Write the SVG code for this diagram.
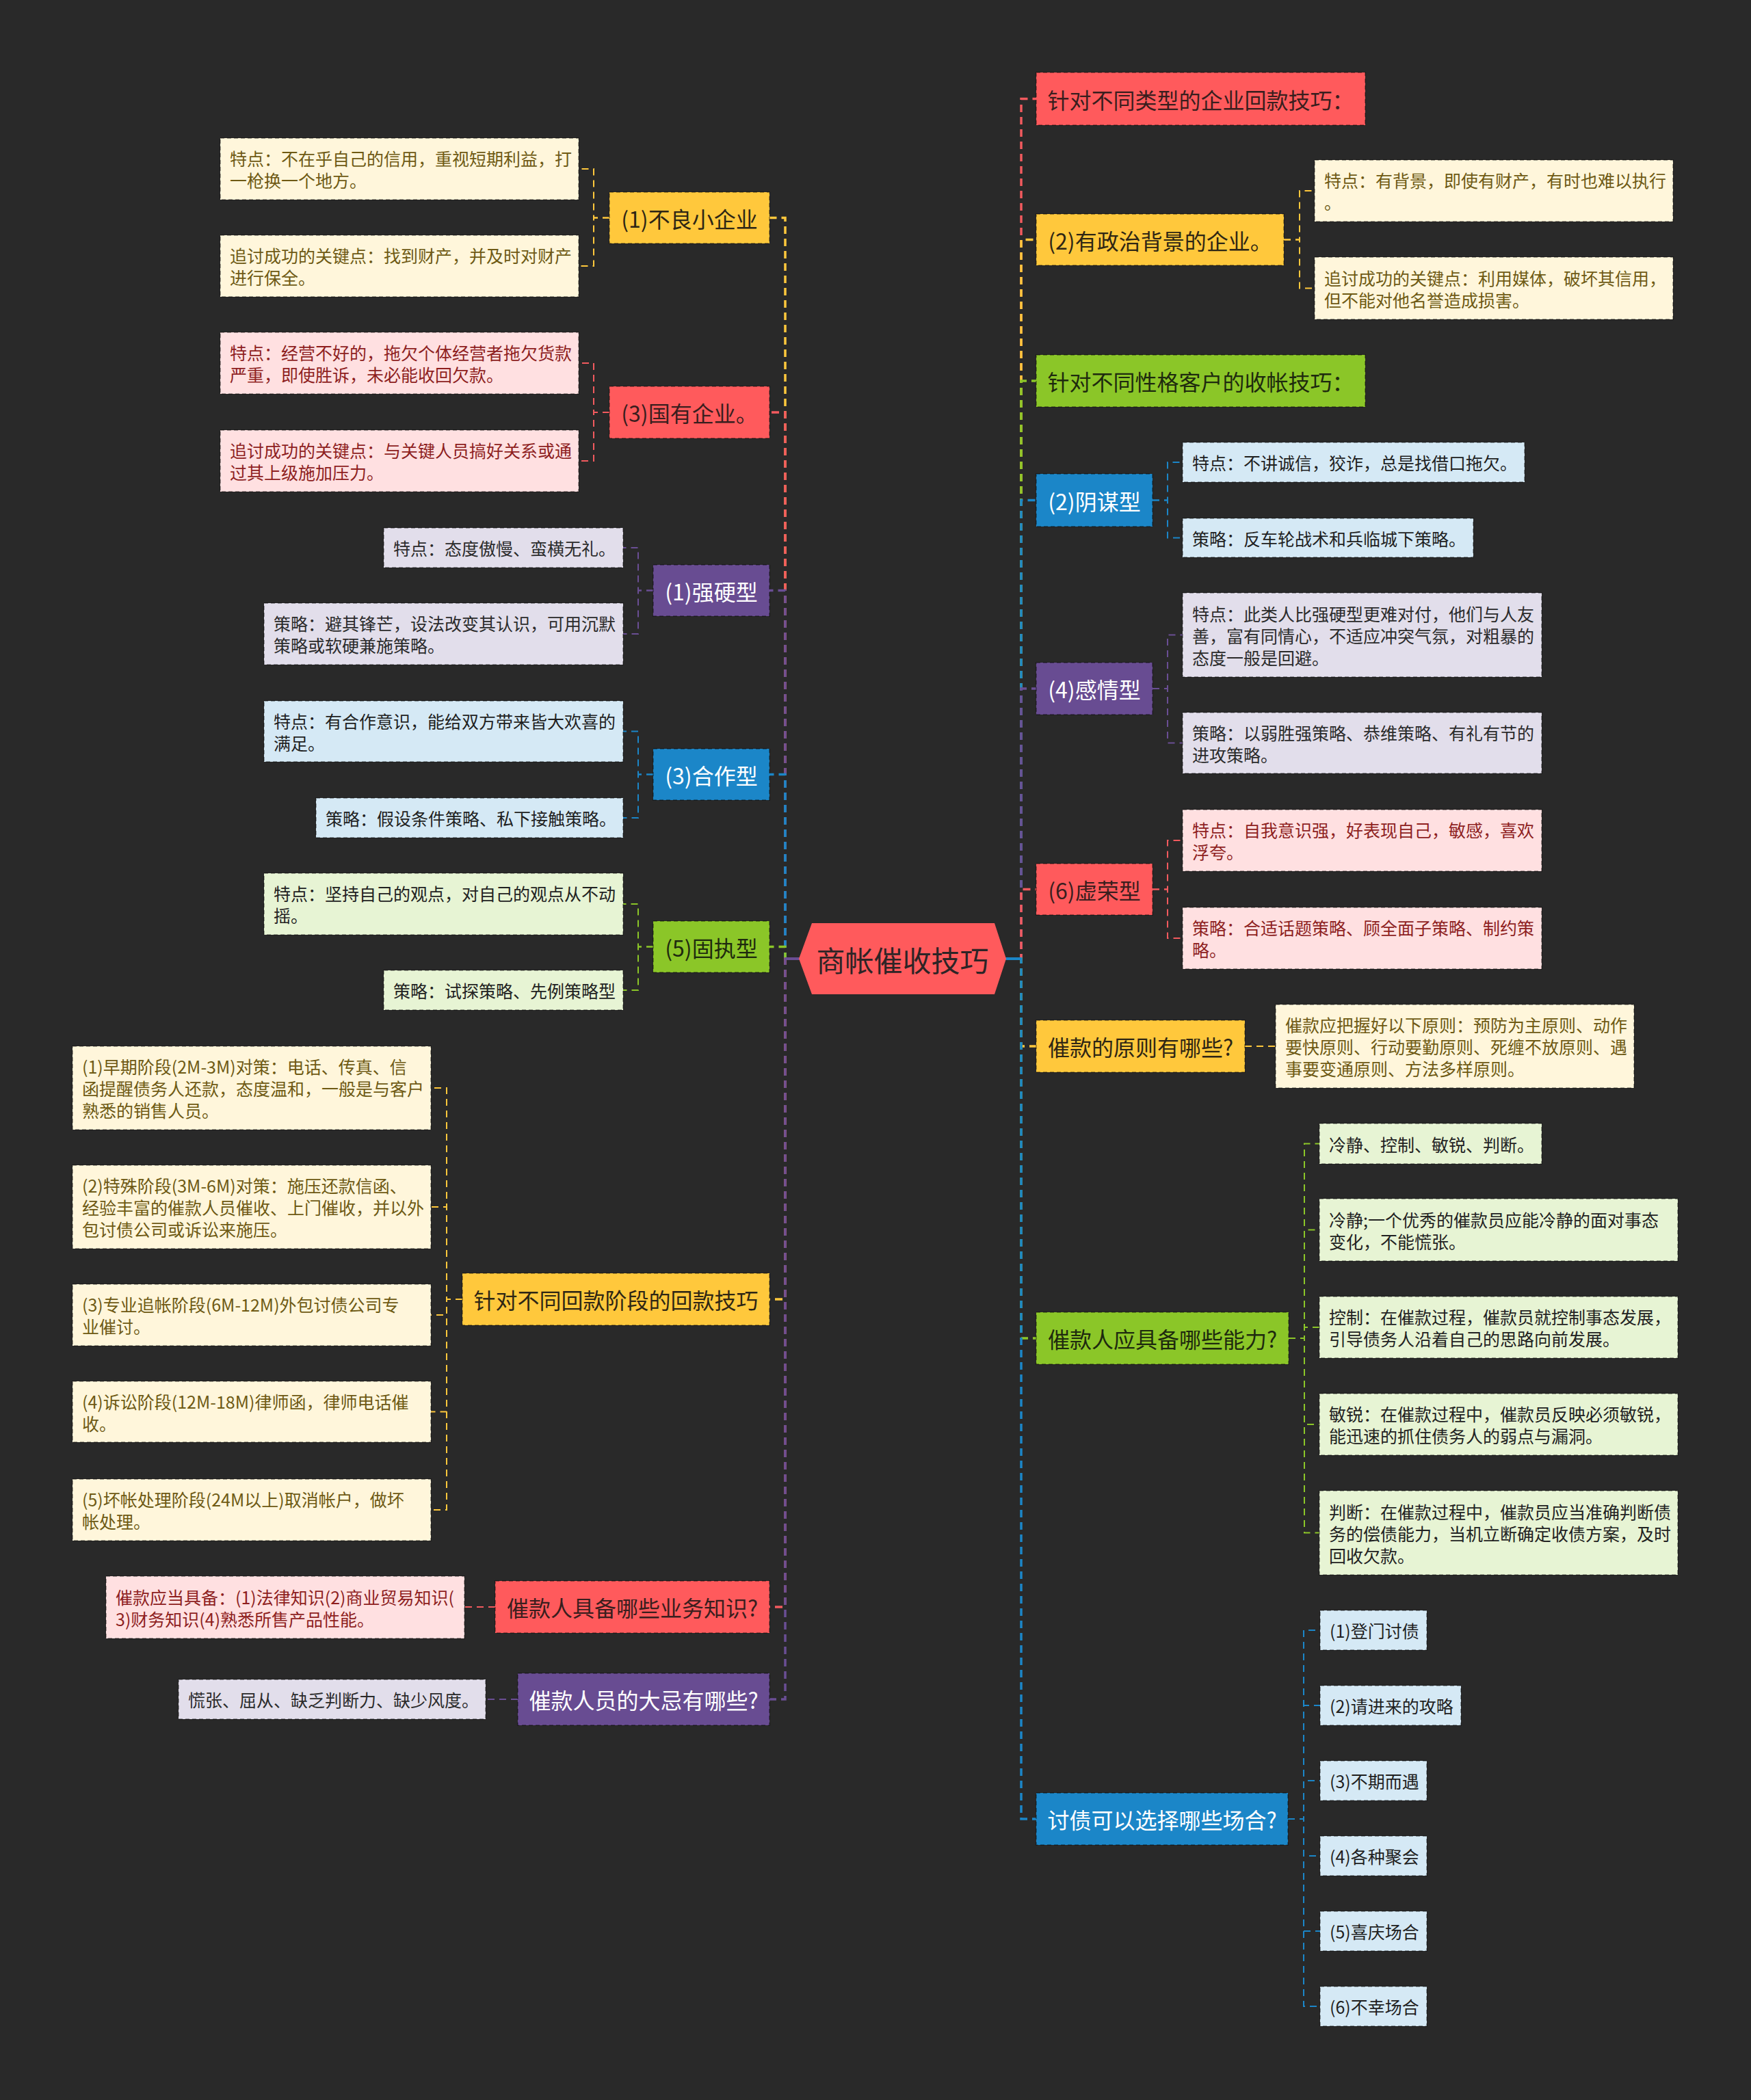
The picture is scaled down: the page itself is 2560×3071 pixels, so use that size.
<svg xmlns="http://www.w3.org/2000/svg" width="2560" height="3071" viewBox="0 0 2560 3071">
<style>
text{font-family:"Noto Sans CJK SC","Noto Sans",sans-serif;dominant-baseline:central}
.t0{font-size:42px;fill:#2E2426;text-anchor:middle}
.t1{font-size:32px;text-anchor:middle}
.t2{font-size:25px}
.bx{stroke:rgba(0,0,0,0.32);stroke-width:2;stroke-dasharray:6 4}
.c1{fill:none;stroke-width:3.5;stroke-dasharray:11 7}
.c2{fill:none;stroke-width:2;stroke-dasharray:10 7}
.sr{stroke:#F25A5E}.sy{stroke:#FFC83C}.sg{stroke:#8BC628}.sb{stroke:#1B86C8}.sp{stroke:#6A4E94}
.fr{fill:#FF5A5C}.fy{fill:#FFC83C}.fg{fill:#8BC628}.fb{fill:#1B86C8}.fp{fill:#684C92}
.lr{fill:#FFE0E1}.ly{fill:#FFF6DB}.lg{fill:#E7F4D4}.lb{fill:#D5E9F5}.lp{fill:#E2DEEB}
.tr{fill:#3A1E1E}.ty{fill:#2E2614}.tg{fill:#1E2A0E}.tw{fill:#FFFFFF}
.xr{fill:#8E1F1F}.xy{fill:#6E5A14}.xg{fill:#222222}.xb{fill:#1F1F1F}.xp{fill:#2B2B2B}
</style>
<rect width="2560" height="3071" fill="#292929"/>

<g id="connectors">
<path class="c1 sy" d="M1168 1402 H1148 V318.5 H1125"/>
<path class="c1 sr" d="M1168 1402 H1148 V603 H1125"/>
<path class="c1 sp" d="M1168 1402 H1148 V863.5 H1125"/>
<path class="c1 sb" d="M1168 1402 H1148 V1132.5 H1125"/>
<path class="c1 sg" d="M1168 1402 H1148 V1384.5 H1125"/>
<path class="c1 sy" d="M1168 1402 H1148 V1900 H1125"/>
<path class="c1 sr" d="M1168 1402 H1148 V2350 H1125"/>
<path class="c1 sp" d="M1168 1402 H1148 V2485 H1125"/>
<path class="c1 sr" d="M1471 1402 H1493 V144.5 H1515"/>
<path class="c1 sy" d="M1471 1402 H1493 V350.5 H1515"/>
<path class="c1 sg" d="M1471 1402 H1493 V557 H1515"/>
<path class="c1 sb" d="M1471 1402 H1493 V731.5 H1515"/>
<path class="c1 sp" d="M1471 1402 H1493 V1007 H1515"/>
<path class="c1 sr" d="M1471 1402 H1493 V1300.5 H1515"/>
<path class="c1 sy" d="M1471 1402 H1493 V1530 H1515"/>
<path class="c1 sg" d="M1471 1402 H1493 V1957 H1515"/>
<path class="c1 sb" d="M1471 1402 H1493 V2660 H1515"/>
<path d="M1148 1402 H1169" stroke="#6A4E94" stroke-width="4" fill="none"/>
<path d="M1470 1402 H1493" stroke="#1B86C8" stroke-width="4" fill="none"/>
<path class="c2 sy" d="M891 318.5 H868 V247 H846"/>
<path class="c2 sy" d="M891 318.5 H868 V389 H846"/>
<path class="c2 sr" d="M891 603 H868 V531 H846"/>
<path class="c2 sr" d="M891 603 H868 V674 H846"/>
<path class="c2 sp" d="M955 863.5 H933 V801 H911"/>
<path class="c2 sp" d="M955 863.5 H933 V927 H911"/>
<path class="c2 sb" d="M955 1132.5 H933 V1069.5 H911"/>
<path class="c2 sb" d="M955 1132.5 H933 V1196 H911"/>
<path class="c2 sg" d="M955 1384.5 H933 V1322 H911"/>
<path class="c2 sg" d="M955 1384.5 H933 V1448 H911"/>
<path class="c2 sy" d="M676 1900 H653 V1591 H630"/>
<path class="c2 sy" d="M676 1900 H653 V1765 H630"/>
<path class="c2 sy" d="M676 1900 H653 V1923 H630"/>
<path class="c2 sy" d="M676 1900 H653 V2064.5 H630"/>
<path class="c2 sy" d="M676 1900 H653 V2208 H630"/>
<path class="c2 sr" d="M724 2350 H679"/>
<path class="c2 sp" d="M757 2485 H710"/>
<path class="c2 sy" d="M1877 350.5 H1900 V279 H1922"/>
<path class="c2 sy" d="M1877 350.5 H1900 V421.5 H1922"/>
<path class="c2 sb" d="M1685 731.5 H1707 V676 H1729"/>
<path class="c2 sb" d="M1685 731.5 H1707 V786.5 H1729"/>
<path class="c2 sp" d="M1685 1007 H1707 V928.5 H1729"/>
<path class="c2 sp" d="M1685 1007 H1707 V1086.5 H1729"/>
<path class="c2 sr" d="M1685 1300.5 H1707 V1229 H1729"/>
<path class="c2 sr" d="M1685 1300.5 H1707 V1372 H1729"/>
<path class="c2 sy" d="M1820 1530 H1865"/>
<path class="c2 sg" d="M1884 1957 H1907 V1672.5 H1929"/>
<path class="c2 sg" d="M1884 1957 H1907 V1798.5 H1929"/>
<path class="c2 sg" d="M1884 1957 H1907 V1941 H1929"/>
<path class="c2 sg" d="M1884 1957 H1907 V2083 H1929"/>
<path class="c2 sg" d="M1884 1957 H1907 V2241.5 H1929"/>
<path class="c2 sb" d="M1883 2660 H1906 V2384 H1930"/>
<path class="c2 sb" d="M1883 2660 H1906 V2494 H1930"/>
<path class="c2 sb" d="M1883 2660 H1906 V2604 H1930"/>
<path class="c2 sb" d="M1883 2660 H1906 V2714 H1930"/>
<path class="c2 sb" d="M1883 2660 H1906 V2824 H1930"/>
<path class="c2 sb" d="M1883 2660 H1906 V2934 H1930"/>
</g>

<g id="root">
<polygon points="1168,1402 1187,1350 1454,1350 1471,1402 1454,1454 1187,1454" fill="#FF5A5C"/>
<text class="t0" x="1319.5" y="1402">商帐催收技巧</text>
</g>

<g id="L1"><rect class="bx fy" x="891" y="281" width="234" height="75"/><text class="t1 ty" x="1008" y="318.5">(1)不良小企业</text></g>
<g id="L2"><rect class="bx fr" x="891" y="565" width="234" height="76"/><text class="t1 tr" x="1008" y="603">(3)国有企业。</text></g>
<g id="L3"><rect class="bx fp" x="955" y="826" width="170" height="75"/><text class="t1 tw" x="1040" y="863.5">(1)强硬型</text></g>
<g id="L4"><rect class="bx fb" x="955" y="1095" width="170" height="75"/><text class="t1 tw" x="1040" y="1132.5">(3)合作型</text></g>
<g id="L5"><rect class="bx fg" x="955" y="1347" width="170" height="75"/><text class="t1 tg" x="1040" y="1384.5">(5)固执型</text></g>
<g id="L6"><rect class="bx fy" x="676" y="1862" width="449" height="76"/><text class="t1 ty" x="900.5" y="1900">针对不同回款阶段的回款技巧</text></g>
<g id="L7"><rect class="bx fr" x="724" y="2312" width="401" height="76"/><text class="t1 tr" x="924.5" y="2350">催款人具备哪些业务知识?</text></g>
<g id="L8"><rect class="bx fp" x="757" y="2447" width="368" height="76"/><text class="t1 tw" x="941" y="2485">催款人员的大忌有哪些?</text></g>

<g id="L1a"><rect class="bx ly" x="322" y="202" width="524" height="90"/><text class="t2 xy" x="336" y="231">特点：不在乎自己的信用，重视短期利益，打</text><text class="t2 xy" x="336" y="263">一枪换一个地方。</text></g>
<g id="L1b"><rect class="bx ly" x="322" y="344" width="524" height="90"/><text class="t2 xy" x="336" y="373">追讨成功的关键点：找到财产，并及时对财产</text><text class="t2 xy" x="336" y="405">进行保全。</text></g>
<g id="L2a"><rect class="bx lr" x="322" y="486" width="524" height="90"/><text class="t2 xr" x="336" y="515">特点：经营不好的，拖欠个体经营者拖欠货款</text><text class="t2 xr" x="336" y="547">严重，即使胜诉，未必能收回欠款。</text></g>
<g id="L2b"><rect class="bx lr" x="322" y="629" width="524" height="90"/><text class="t2 xr" x="336" y="658">追讨成功的关键点：与关键人员搞好关系或通</text><text class="t2 xr" x="336" y="690">过其上级施加压力。</text></g>
<g id="L3a"><rect class="bx lp" x="561" y="772" width="350" height="58"/><text class="t2 xp" x="575" y="801">特点：态度傲慢、蛮横无礼。</text></g>
<g id="L3b"><rect class="bx lp" x="386" y="882" width="525" height="90"/><text class="t2 xp" x="400" y="911">策略：避其锋芒，设法改变其认识，可用沉默</text><text class="t2 xp" x="400" y="943">策略或软硬兼施策略。</text></g>
<g id="L4a"><rect class="bx lb" x="386" y="1025" width="525" height="89"/><text class="t2 xb" x="400" y="1053.5">特点：有合作意识，能给双方带来皆大欢喜的</text><text class="t2 xb" x="400" y="1085.5">满足。</text></g>
<g id="L4b"><rect class="bx lb" x="462" y="1167" width="449" height="58"/><text class="t2 xb" x="476" y="1196">策略：假设条件策略、私下接触策略。</text></g>
<g id="L5a"><rect class="bx lg" x="386" y="1277" width="525" height="90"/><text class="t2 xg" x="400" y="1306">特点：坚持自己的观点，对自己的观点从不动</text><text class="t2 xg" x="400" y="1338">摇。</text></g>
<g id="L5b"><rect class="bx lg" x="561" y="1419" width="350" height="58"/><text class="t2 xg" x="575" y="1448">策略：试探策略、先例策略型</text></g>
<g id="L6a"><rect class="bx ly" x="106" y="1530" width="524" height="122"/><text class="t2 xy" x="120" y="1559">(1)早期阶段(2M-3M)对策：电话、传真、信</text><text class="t2 xy" x="120" y="1591">函提醒债务人还款，态度温和，一般是与客户</text><text class="t2 xy" x="120" y="1623">熟悉的销售人员。</text></g>
<g id="L6b"><rect class="bx ly" x="106" y="1704" width="524" height="122"/><text class="t2 xy" x="120" y="1733">(2)特殊阶段(3M-6M)对策：施压还款信函、</text><text class="t2 xy" x="120" y="1765">经验丰富的催款人员催收、上门催收，并以外</text><text class="t2 xy" x="120" y="1797">包讨债公司或诉讼来施压。</text></g>
<g id="L6c"><rect class="bx ly" x="106" y="1878" width="524" height="90"/><text class="t2 xy" x="120" y="1907">(3)专业追帐阶段(6M-12M)外包讨债公司专</text><text class="t2 xy" x="120" y="1939">业催讨。</text></g>
<g id="L6d"><rect class="bx ly" x="106" y="2020" width="524" height="89"/><text class="t2 xy" x="120" y="2048.5">(4)诉讼阶段(12M-18M)律师函，律师电话催</text><text class="t2 xy" x="120" y="2080.5">收。</text></g>
<g id="L6e"><rect class="bx ly" x="106" y="2163" width="524" height="90"/><text class="t2 xy" x="120" y="2192">(5)坏帐处理阶段(24M以上)取消帐户，做坏</text><text class="t2 xy" x="120" y="2224">帐处理。</text></g>
<g id="L7a"><rect class="bx lr" x="155" y="2305" width="524" height="91"/><text class="t2 xr" x="169" y="2334.5">催款应当具备：(1)法律知识(2)商业贸易知识(</text><text class="t2 xr" x="169" y="2366.5">3)财务知识(4)熟悉所售产品性能。</text></g>
<g id="L8a"><rect class="bx lp" x="261" y="2456" width="449" height="58"/><text class="t2 xp" x="275" y="2485">慌张、屈从、缺乏判断力、缺少风度。</text></g>

<g id="R1"><rect class="bx fr" x="1515" y="106" width="481" height="77"/><text class="t1 tr" x="1755.5" y="144.5">针对不同类型的企业回款技巧：</text></g>
<g id="R2"><rect class="bx fy" x="1515" y="313" width="362" height="75"/><text class="t1 ty" x="1696" y="350.5">(2)有政治背景的企业。</text></g>
<g id="R3"><rect class="bx fg" x="1515" y="519" width="481" height="76"/><text class="t1 tg" x="1755.5" y="557">针对不同性格客户的收帐技巧：</text></g>
<g id="R4"><rect class="bx fb" x="1515" y="693" width="170" height="77"/><text class="t1 tw" x="1600" y="731.5">(2)阴谋型</text></g>
<g id="R5"><rect class="bx fp" x="1515" y="969" width="170" height="76"/><text class="t1 tw" x="1600" y="1007">(4)感情型</text></g>
<g id="R6"><rect class="bx fr" x="1515" y="1263" width="170" height="75"/><text class="t1 tr" x="1600" y="1300.5">(6)虚荣型</text></g>
<g id="R7"><rect class="bx fy" x="1515" y="1492" width="305" height="76"/><text class="t1 ty" x="1667.5" y="1530">催款的原则有哪些?</text></g>
<g id="R8"><rect class="bx fg" x="1515" y="1919" width="369" height="76"/><text class="t1 tg" x="1699.5" y="1957">催款人应具备哪些能力?</text></g>
<g id="R9"><rect class="bx fb" x="1515" y="2622" width="368" height="76"/><text class="t1 tw" x="1699" y="2660">讨债可以选择哪些场合?</text></g>

<g id="R2a"><rect class="bx ly" x="1922" y="234" width="524" height="90"/><text class="t2 xy" x="1936" y="263">特点：有背景，即使有财产，有时也难以执行</text><text class="t2 xy" x="1936" y="295">。</text></g>
<g id="R2b"><rect class="bx ly" x="1922" y="376" width="524" height="91"/><text class="t2 xy" x="1936" y="405.5">追讨成功的关键点：利用媒体，破坏其信用，</text><text class="t2 xy" x="1936" y="437.5">但不能对他名誉造成损害。</text></g>
<g id="R4a"><rect class="bx lb" x="1729" y="647" width="500" height="58"/><text class="t2 xb" x="1743" y="676">特点：不讲诚信，狡诈，总是找借口拖欠。</text></g>
<g id="R4b"><rect class="bx lb" x="1729" y="758" width="425" height="57"/><text class="t2 xb" x="1743" y="786.5">策略：反车轮战术和兵临城下策略。</text></g>
<g id="R5a"><rect class="bx lp" x="1729" y="867" width="525" height="123"/><text class="t2 xp" x="1743" y="896.5">特点：此类人比强硬型更难对付，他们与人友</text><text class="t2 xp" x="1743" y="928.5">善，富有同情心，不适应冲突气氛，对粗暴的</text><text class="t2 xp" x="1743" y="960.5">态度一般是回避。</text></g>
<g id="R5b"><rect class="bx lp" x="1729" y="1042" width="525" height="89"/><text class="t2 xp" x="1743" y="1070.5">策略：以弱胜强策略、恭维策略、有礼有节的</text><text class="t2 xp" x="1743" y="1102.5">进攻策略。</text></g>
<g id="R6a"><rect class="bx lr" x="1729" y="1184" width="525" height="90"/><text class="t2 xr" x="1743" y="1213">特点：自我意识强，好表现自己，敏感，喜欢</text><text class="t2 xr" x="1743" y="1245">浮夸。</text></g>
<g id="R6b"><rect class="bx lr" x="1729" y="1327" width="525" height="90"/><text class="t2 xr" x="1743" y="1356">策略：合适话题策略、顾全面子策略、制约策</text><text class="t2 xr" x="1743" y="1388">略。</text></g>
<g id="R7a"><rect class="bx ly" x="1865" y="1469" width="524" height="122"/><text class="t2 xy" x="1879" y="1498">催款应把握好以下原则：预防为主原则、动作</text><text class="t2 xy" x="1879" y="1530">要快原则、行动要勤原则、死缠不放原则、遇</text><text class="t2 xy" x="1879" y="1562">事要变通原则、方法多样原则。</text></g>
<g id="R8a"><rect class="bx lg" x="1929" y="1643" width="325" height="59"/><text class="t2 xg" x="1943" y="1672.5">冷静、控制、敏锐、判断。</text></g>
<g id="R8b"><rect class="bx lg" x="1929" y="1753" width="524" height="91"/><text class="t2 xg" x="1943" y="1782.5">冷静;一个优秀的催款员应能冷静的面对事态</text><text class="t2 xg" x="1943" y="1814.5">变化，不能慌张。</text></g>
<g id="R8c"><rect class="bx lg" x="1929" y="1896" width="524" height="90"/><text class="t2 xg" x="1943" y="1925">控制：在催款过程，催款员就控制事态发展，</text><text class="t2 xg" x="1943" y="1957">引导债务人沿着自己的思路向前发展。</text></g>
<g id="R8d"><rect class="bx lg" x="1929" y="2038" width="524" height="90"/><text class="t2 xg" x="1943" y="2067">敏锐：在催款过程中，催款员反映必须敏锐，</text><text class="t2 xg" x="1943" y="2099">能迅速的抓住债务人的弱点与漏洞。</text></g>
<g id="R8e"><rect class="bx lg" x="1929" y="2180" width="524" height="123"/><text class="t2 xg" x="1943" y="2209.5">判断：在催款过程中，催款员应当准确判断债</text><text class="t2 xg" x="1943" y="2241.5">务的偿债能力，当机立断确定收债方案，及时</text><text class="t2 xg" x="1943" y="2273.5">回收欠款。</text></g>
<g id="R9a"><rect class="bx lb" x="1930" y="2355" width="156" height="58"/><text class="t2 xb" x="1944" y="2384">(1)登门讨债</text></g>
<g id="R9b"><rect class="bx lb" x="1930" y="2465" width="206" height="58"/><text class="t2 xb" x="1944" y="2494">(2)请进来的攻略</text></g>
<g id="R9c"><rect class="bx lb" x="1930" y="2575" width="156" height="58"/><text class="t2 xb" x="1944" y="2604">(3)不期而遇</text></g>
<g id="R9d"><rect class="bx lb" x="1930" y="2685" width="156" height="58"/><text class="t2 xb" x="1944" y="2714">(4)各种聚会</text></g>
<g id="R9e"><rect class="bx lb" x="1930" y="2795" width="156" height="58"/><text class="t2 xb" x="1944" y="2824">(5)喜庆场合</text></g>
<g id="R9f"><rect class="bx lb" x="1930" y="2905" width="156" height="58"/><text class="t2 xb" x="1944" y="2934">(6)不幸场合</text></g>
</svg>
